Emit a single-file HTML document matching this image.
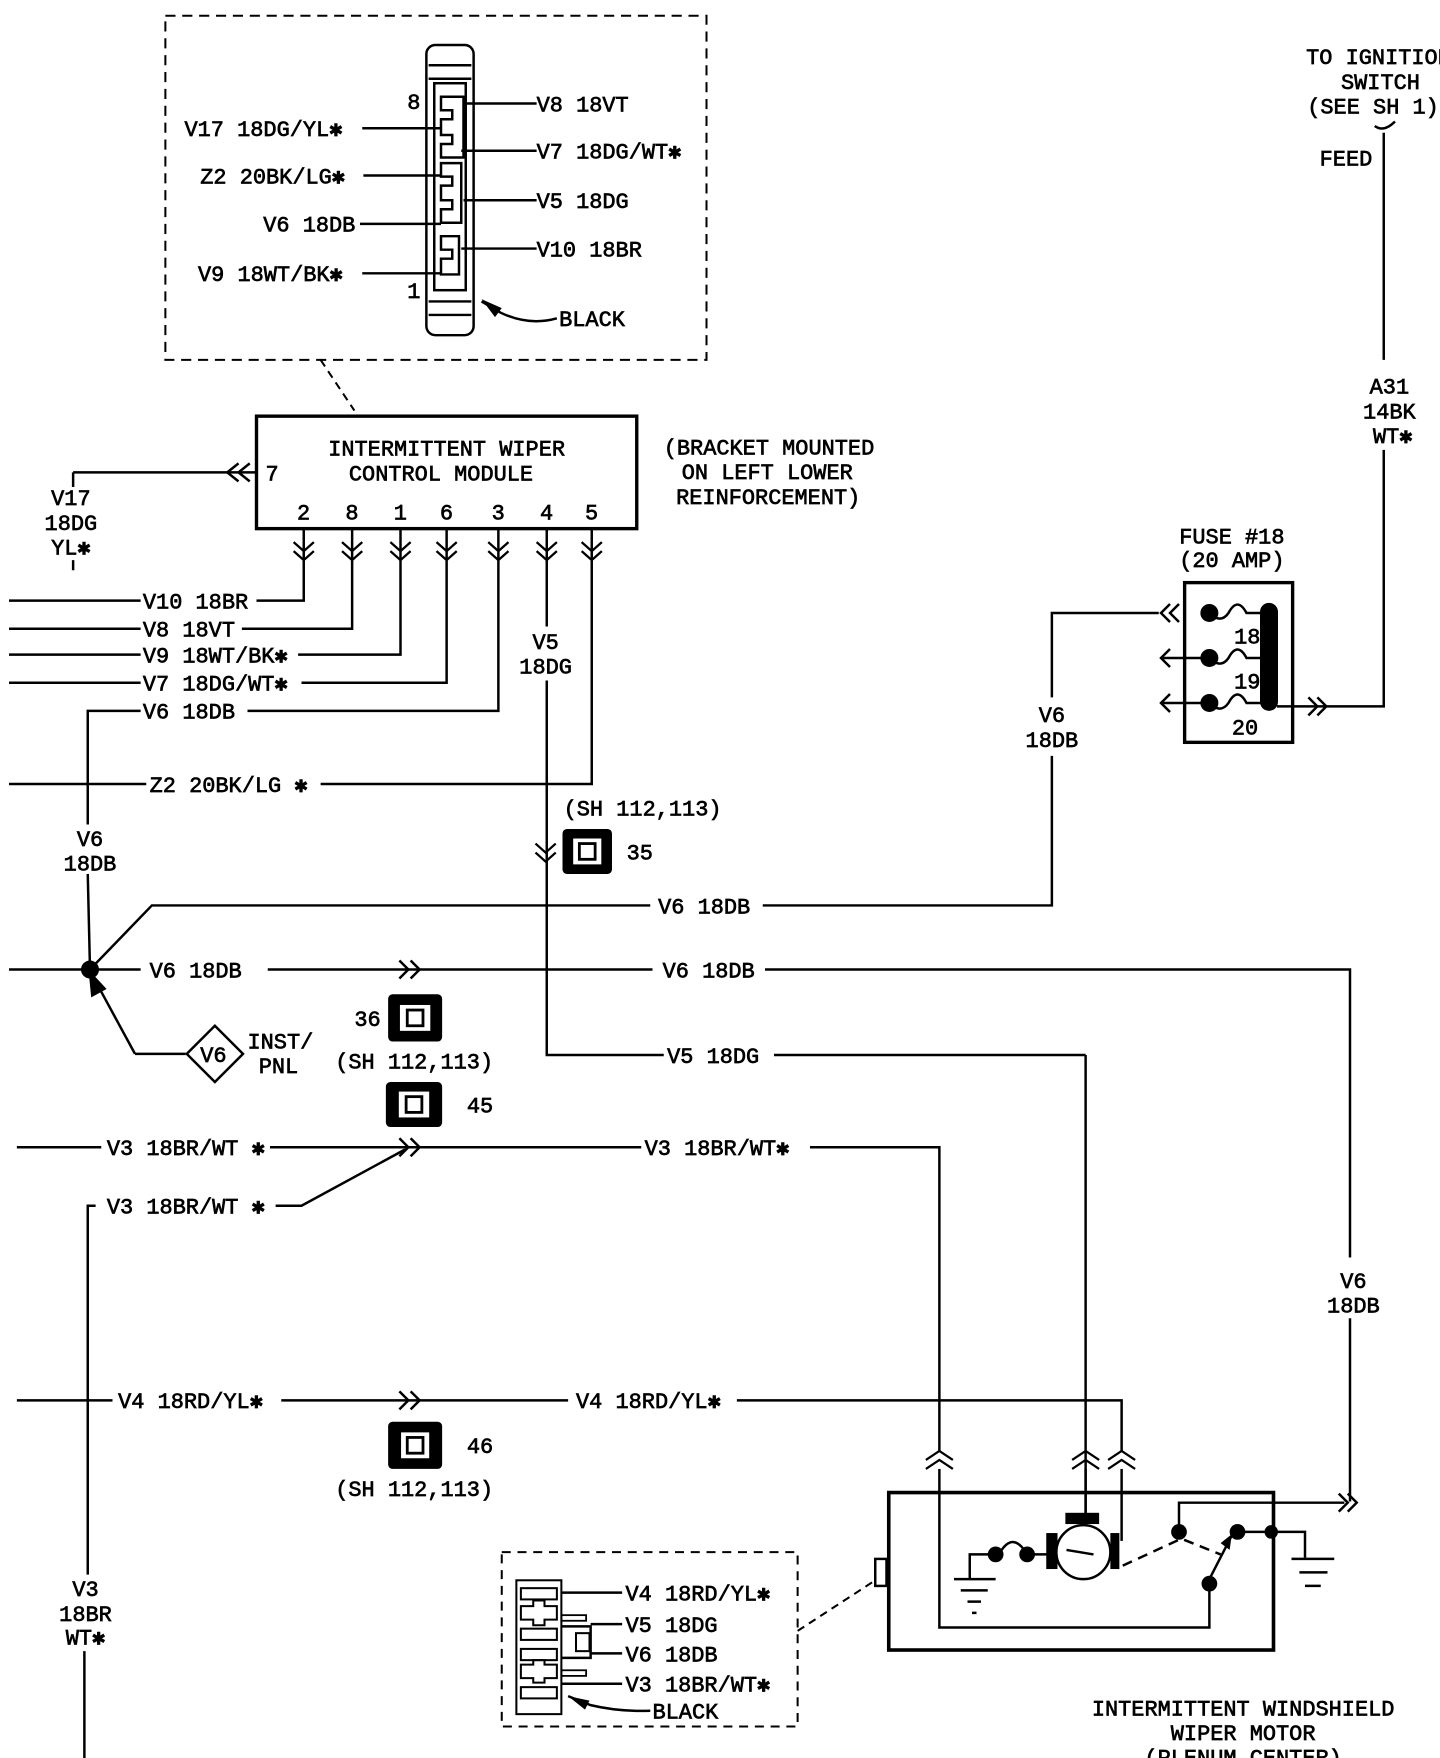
<!DOCTYPE html>
<html><head><meta charset="utf-8"><style>
html,body{margin:0;padding:0;background:#fff;}
svg{display:block;}
text{font-family:"Liberation Mono","DejaVu Sans Mono",monospace;font-size:19.5px;fill:#000;stroke:#000;stroke-width:0.6;}
</style></head><body>
<svg width="1440" height="1758" viewBox="0 0 1280 1563" preserveAspectRatio="none" xmlns="http://www.w3.org/2000/svg">
<g fill="none" stroke="#000" stroke-width="2.2">
<rect x="147" y="14" width="481" height="306" stroke-dasharray="9,6" stroke-width="1.8"/>
<line x1="285" y1="320" x2="315" y2="365" stroke-dasharray="7,5" stroke-width="1.8"/>
<rect x="379" y="40" width="42" height="258" rx="8"/>
<line x1="381" y1="58" x2="419" y2="58"/><line x1="381" y1="70" x2="419" y2="70"/>
<line x1="381" y1="268" x2="419" y2="268"/><line x1="381" y1="280" x2="419" y2="280"/>
<rect x="386" y="74" width="28" height="184"/>
<path d="M412 86 H392 V98 H402 V106 H392 V120 H402 V128 H392 V140 H412 Z"/>
<path d="M410 145 H392 V157 H402 V165 H392 V178 H402 V186 H392 V198 H410 Z"/>
<path d="M408 210 H392 V222 H402 V230 H392 V244 H408 Z"/>
<line x1="322" y1="114" x2="392" y2="114"/>
<line x1="323" y1="156" x2="392" y2="156"/>
<line x1="320" y1="199" x2="392" y2="199"/>
<line x1="322" y1="243" x2="392" y2="243"/>
<line x1="412" y1="92" x2="477" y2="92"/>
<line x1="410" y1="134" x2="477" y2="134"/>
<line x1="412" y1="178" x2="477" y2="178"/>
<line x1="410" y1="221" x2="477" y2="221"/>
<path d="M428 268 L445 278 Q470 290 495 283"/>
<rect x="228" y="370" width="338" height="100" stroke-width="3"/>
<line x1="65" y1="420" x2="228" y2="420"/>
<path d="M212 412 L202 420 L212 428 M222 412 L212 420 L222 428"/>
<line x1="65" y1="420" x2="65" y2="433"/>
<line x1="65" y1="498" x2="65" y2="507"/>
<path d="M270 470 V534 H228"/><line x1="8" y1="534" x2="125" y2="534"/>
<path d="M313 470 V559 H215"/><line x1="8" y1="559" x2="125" y2="559"/>
<path d="M356 470 V582 H265"/><line x1="8" y1="582" x2="125" y2="582"/>
<path d="M397 470 V607 H268"/><line x1="8" y1="607" x2="125" y2="607"/>
<path d="M443 470 V632 H220"/><path d="M125 632 H78 V733"/>
<path d="M526 470 V697 H285"/><line x1="8" y1="697" x2="130" y2="697"/>
<path d="M486 470 V557"/><path d="M486 605 V938 H590"/>
<line x1="688" y1="938" x2="965" y2="938"/><line x1="965" y1="938" x2="965" y2="1350"/>
<g stroke-width="2">
<path d="M261 482 L270 490 L279 482 M261 490 L270 498 L279 490"/>
<path d="M304 482 L313 490 L322 482 M304 490 L313 498 L322 490"/>
<path d="M347 482 L356 490 L365 482 M347 490 L356 498 L365 490"/>
<path d="M388 482 L397 490 L406 482 M388 490 L397 498 L406 490"/>
<path d="M434 482 L443 490 L452 482 M434 490 L443 498 L452 490"/>
<path d="M477 482 L486 490 L495 482 M477 490 L486 498 L495 490"/>
<path d="M517 482 L526 490 L535 482 M517 490 L526 498 L535 490"/>
<path d="M476 750 L485 758 L494 750 M476 758 L485 766 L494 758"/>
</g>
<line x1="78" y1="777" x2="80" y2="862"/>
<line x1="8" y1="862" x2="125" y2="862"/>
<line x1="238" y1="862" x2="580" y2="862"/>
<path d="M355 854 L363 862 L355 870 M365 854 L373 862 L365 870"/>
<path d="M680 862 H1200 V1118"/>
<path d="M1200 1172 V1335"/>
<path d="M80 862 L135 805 H578"/>
<path d="M678 805 H935 V672"/>
<path d="M935 620 V545 H1030"/>
<path d="M1040 537 L1032 545 L1040 553 M1048 537 L1040 545 L1048 553"/>
<path d="M120 937 H165"/>
<path d="M120 937 L88 878"/>
<polygon points="80,865 82,885 93,879" fill="#000"/>
<polygon points="191,912 216,937 191,962 166,937"/>
<line x1="15" y1="1020" x2="90" y2="1020"/>
<line x1="240" y1="1020" x2="570" y2="1020"/>
<path d="M720 1020 H835 V1290"/>
<path d="M355 1012 L363 1020 L355 1028 M365 1012 L373 1020 L365 1028"/>
<path d="M245 1072 L268 1072 L360 1022"/>
<path d="M85 1072 H78 V1400"/><line x1="75" y1="1468" x2="75" y2="1563"/>
<line x1="15" y1="1245" x2="100" y2="1245"/>
<line x1="250" y1="1245" x2="505" y2="1245"/>
<path d="M655 1245 H997 V1290"/>
<path d="M355 1237 L363 1245 L355 1253 M365 1237 L373 1245 L365 1253"/>
<g stroke-width="2">
<path d="M823 1298 L835 1290 L847 1298 M823 1306 L835 1298 L847 1306"/>
<path d="M953 1298 L965 1290 L977 1298 M953 1306 L965 1298 L977 1306"/>
<path d="M985 1298 L997 1290 L1009 1298 M985 1306 L997 1298 L1009 1306"/>
</g>
<line x1="835" y1="1306" x2="835" y2="1327"/><line x1="965" y1="1306" x2="965" y2="1345"/><line x1="997" y1="1306" x2="997" y2="1327"/>
<rect x="1053" y="518" width="96" height="142" stroke-width="3"/>
<path d="M1040 577 L1032 585 L1040 593"/>
<line x1="1032" y1="585" x2="1075" y2="585"/>
<path d="M1040 617 L1032 625 L1040 633"/><line x1="1032" y1="625" x2="1075" y2="625"/>
<path d="M1075 545 Q1085 555 1092 545 Q1100 530 1108 545 L1125 545"/>
<path d="M1075 585 Q1085 595 1092 585 Q1100 570 1108 585 L1125 585"/>
<path d="M1075 625 Q1085 635 1092 625 Q1100 610 1108 625 L1125 625"/>
<path d="M1135 628 H1230 V400"/>
<path d="M1163 620 L1171 628 L1163 636 M1171 620 L1179 628 L1171 636"/>
<path d="M1230 320 V118"/>
<path d="M1222 112 Q1230 118 1240 108"/>
<rect x="790" y="1327" width="342" height="140" stroke-width="3.2"/>
<rect x="778" y="1386" width="10" height="24"/>
<path d="M835 1327 V1447 H1075 V1404"/>
<path d="M997 1327 V1370"/>
<path d="M965 1345 V1352"/>
<circle cx="963" cy="1380" r="24"/>
<path d="M948 1378 L972 1382"/>
<path d="M862 1404 V1382 H885"/>
<path d="M888 1382 Q900 1360 913 1382"/>
<path d="M913 1382 H932"/>
<path d="M848 1404 H885 M854 1414 H878 M860 1424 H872 M864 1434 H868"/>
<path d="M998 1392 L1050 1368 L1085 1382" stroke-dasharray="9,6"/>
<path d="M1048 1362 V1336 H1195"/>
<path d="M1190 1328 L1198 1336 L1190 1344 M1198 1328 L1206 1336 L1198 1344"/>
<path d="M1075 1404 L1095 1365"/>
<path d="M1100 1362 H1132"/>
<path d="M1132 1362 H1160 V1385"/>
<path d="M1148 1386 H1186 M1155 1398 H1180 M1160 1410 H1174"/>
<rect x="446" y="1380" width="263" height="155" stroke-dasharray="8,6" stroke-width="1.8"/>
<line x1="709" y1="1450" x2="778" y2="1405" stroke-dasharray="7,5" stroke-width="1.8"/>
<rect x="459" y="1405" width="40" height="119" stroke-width="1.8"/>
<rect x="463" y="1412" width="32" height="10" stroke-width="1.8"/>
<path d="M463 1428 H474 V1423 H484 V1428 H495 V1440 H484 V1445 H474 V1440 H463 Z" stroke-width="1.8"/>
<rect x="463" y="1448" width="32" height="10" stroke-width="1.8"/>
<rect x="463" y="1466" width="32" height="10" stroke-width="1.8"/>
<path d="M463 1480 H474 V1476 H484 V1480 H495 V1492 H484 V1496 H474 V1492 H463 Z" stroke-width="1.8"/>
<rect x="463" y="1500" width="32" height="10" stroke-width="1.8"/>
<rect x="499" y="1436" width="22" height="5" stroke-width="1.6"/>
<rect x="499" y="1485" width="22" height="5" stroke-width="1.6"/>
<rect x="512" y="1452" width="12" height="16" stroke-width="1.8"/>
<path d="M499 1446 H525 V1474 H499"/>
<line x1="499" y1="1416" x2="553" y2="1416"/>
<line x1="525" y1="1444" x2="553" y2="1444"/>
<line x1="525" y1="1470" x2="553" y2="1470"/>
<line x1="499" y1="1497" x2="553" y2="1497"/>
<path d="M505 1508 L525 1516 Q550 1522 578 1521"/>
</g>
<g fill="#000">
<polygon points="428,266 446,274 440,282"/>
<polygon points="505,1508 524,1512 520,1520"/>
<circle cx="80" cy="862" r="8"/>
<circle cx="1075" cy="545" r="8"/><circle cx="1075" cy="585" r="8"/><circle cx="1075" cy="625" r="8"/>
<rect x="1120" y="536" width="16" height="96" rx="8"/>
<rect x="947" y="1345" width="30" height="10"/>
<rect x="930" y="1363" width="10" height="32"/>
<rect x="987" y="1363" width="8" height="32"/>
<circle cx="885" cy="1382" r="7"/><circle cx="913" cy="1382" r="7"/>
<circle cx="1048" cy="1362" r="7"/><circle cx="1100" cy="1362" r="7"/>
<circle cx="1130" cy="1362" r="6"/><circle cx="1075" cy="1408" r="7"/>
<polygon points="1095,1364 1085,1372 1093,1378"/>
<rect x="500" y="737" width="44" height="40" rx="4"/>
<rect x="345" y="884" width="48" height="42" rx="4"/>
<rect x="343" y="962" width="50" height="40" rx="4"/>
<rect x="345" y="1264" width="48" height="42" rx="4"/>
</g>
<g fill="#fff" stroke="#fff"><rect x="510" y="746" width="24" height="22"/><rect x="356" y="894" width="26" height="22"/><rect x="355" y="971" width="26" height="22"/><rect x="357" y="1274" width="24" height="22"/></g>
<g fill="none" stroke="#000" stroke-width="2.5"><rect x="515" y="750" width="14" height="14"/><rect x="362" y="898" width="14" height="14"/><rect x="361" y="975" width="14" height="14"/><rect x="362" y="1278" width="14" height="14"/></g>
<text x="362" y="97">8</text><text x="362" y="265">1</text>
<text x="164" y="121">V17 18DG/YL✱</text>
<text x="178" y="163">Z2 20BK/LG✱</text>
<text x="234" y="206">V6 18DB</text>
<text x="176" y="250">V9 18WT/BK✱</text>
<text x="477" y="99">V8 18VT</text>
<text x="477" y="141">V7 18DG/WT✱</text>
<text x="477" y="185">V5 18DG</text>
<text x="477" y="228">V10 18BR</text>
<text x="497" y="290">BLACK</text>
<text x="397" y="405" text-anchor="middle">INTERMITTENT WIPER</text>
<text x="392" y="427" text-anchor="middle">CONTROL MODULE</text>
<text x="236" y="427">7</text>
<text x="264" y="462">2</text><text x="307" y="462">8</text><text x="350" y="462">1</text><text x="391" y="462">6</text><text x="437" y="462">3</text><text x="480" y="462">4</text><text x="520" y="462">5</text>
<text x="590" y="404">(BRACKET MOUNTED</text>
<text x="606" y="426">ON LEFT LOWER</text>
<text x="601" y="448">REINFORCEMENT)</text>
<text x="63" y="449" text-anchor="middle">V17</text><text x="63" y="471" text-anchor="middle">18DG</text><text x="63" y="493" text-anchor="middle">YL✱</text>
<text x="127" y="541">V10 18BR</text>
<text x="127" y="566">V8 18VT</text>
<text x="127" y="589">V9 18WT/BK✱</text>
<text x="127" y="614">V7 18DG/WT✱</text>
<text x="127" y="639">V6 18DB</text>
<text x="133" y="704">Z2 20BK/LG ✱</text>
<text x="485" y="577" text-anchor="middle">V5</text><text x="485" y="599" text-anchor="middle">18DG</text>
<text x="501" y="725">(SH 112,113)</text>
<text x="557" y="764">35</text>
<text x="80" y="752" text-anchor="middle">V6</text><text x="80" y="774" text-anchor="middle">18DB</text>
<text x="585" y="812">V6 18DB</text>
<text x="133" y="869">V6 18DB</text>
<text x="589" y="869">V6 18DB</text>
<text x="315" y="912">36</text>
<text x="298" y="950">(SH 112,113)</text>
<text x="415" y="989">45</text>
<text x="178" y="944" font-size="16">V6</text>
<text x="220" y="932">INST/</text><text x="230" y="954">PNL</text>
<text x="593" y="945">V5 18DG</text>
<text x="935" y="642" text-anchor="middle">V6</text><text x="935" y="664" text-anchor="middle">18DB</text>
<text x="95" y="1027">V3 18BR/WT ✱</text>
<text x="573" y="1027">V3 18BR/WT✱</text>
<text x="95" y="1079">V3 18BR/WT ✱</text>
<text x="1203" y="1145" text-anchor="middle">V6</text><text x="1203" y="1167" text-anchor="middle">18DB</text>
<text x="105" y="1252">V4 18RD/YL✱</text>
<text x="512" y="1252">V4 18RD/YL✱</text>
<text x="415" y="1292">46</text>
<text x="298" y="1330">(SH 112,113)</text>
<text x="76" y="1419" text-anchor="middle">V3</text><text x="76" y="1441" text-anchor="middle">18BR</text><text x="76" y="1462" text-anchor="middle">WT✱</text>
<text x="1095" y="483" text-anchor="middle">FUSE #18</text>
<text x="1095" y="504" text-anchor="middle">(20 AMP)</text>
<text x="1097" y="572">18</text><text x="1097" y="612">19</text><text x="1095" y="653">20</text>
<text x="1161" y="57">TO IGNITION</text>
<text x="1192" y="79">SWITCH</text>
<text x="1162" y="101">(SEE SH 1)</text>
<text x="1173" y="147">FEED</text>
<text x="1235" y="350" text-anchor="middle">A31</text><text x="1235" y="372" text-anchor="middle">14BK</text><text x="1238" y="394" text-anchor="middle">WT✱</text>
<text x="556" y="1423">V4 18RD/YL✱</text>
<text x="556" y="1451">V5 18DG</text>
<text x="556" y="1477">V6 18DB</text>
<text x="556" y="1504">V3 18BR/WT✱</text>
<text x="580" y="1528">BLACK</text>
<text x="1105" y="1525" text-anchor="middle">INTERMITTENT WINDSHIELD</text>
<text x="1105" y="1547" text-anchor="middle">WIPER MOTOR</text>
<text x="1105" y="1569" text-anchor="middle">(PLENUM CENTER)</text>
</svg>
</body></html>
